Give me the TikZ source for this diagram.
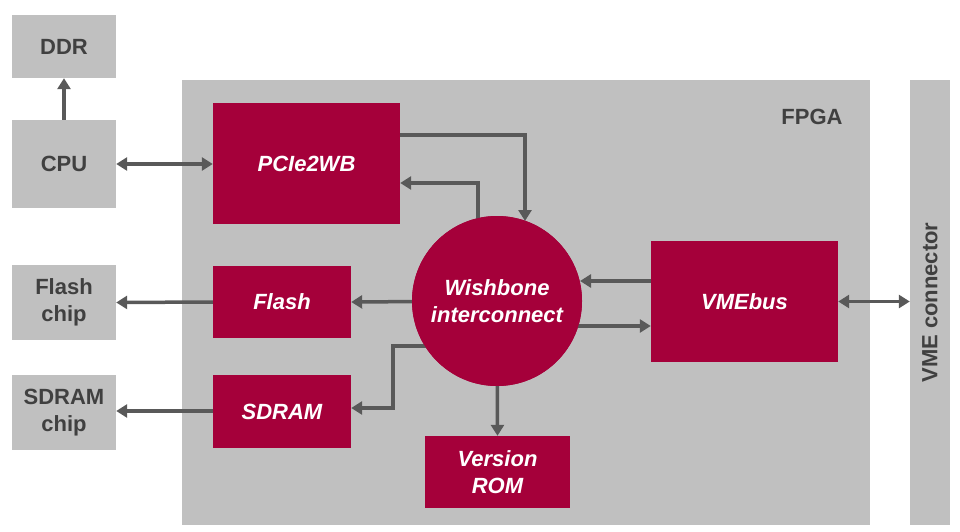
\documentclass[tikz,border=0pt]{standalone}
\usepackage{fontspec}
\setmainfont{Liberation Sans}
\usetikzlibrary{arrows.meta,calc}
\definecolor{gbox}{HTML}{C0C0C0}
\definecolor{rbox}{HTML}{A5003A}
\definecolor{ln}{HTML}{595959}
\definecolor{tx}{HTML}{404040}
\begin{document}
\begin{tikzpicture}[x=1pt,y=-1pt,
  gray/.style={fill=gbox,draw=none,inner sep=0,align=center,font=\fontsize{22}{27}\selectfont\bfseries,text=tx},
  red/.style={fill=rbox,draw=none,inner sep=0,align=center,font=\fontsize{22}{27}\selectfont\bfseries\itshape,text=white},
  ar/.style={draw=ln,line width=3.5pt,-{Triangle[length=11pt,width=13pt]}},
  bar/.style={draw=ln,line width=3.5pt,{Triangle[length=11pt,width=13pt]}-{Triangle[length=11pt,width=13pt]}}]
\useasboundingbox (0,0) rectangle (960,532);
\fill[gbox] (182,80) rectangle (870,525);
\node[font=\fontsize{22}{27}\selectfont\bfseries,text=tx] (fpga) at (812,117) {FPGA};
\node[gray,minimum width=40,minimum height=445] (vme) at (930,302.5) {};
\node[rotate=90,font=\fontsize{22}{27}\selectfont\bfseries,text=tx] at (vme.center) {VME connector};
\node[gray,minimum width=104,minimum height=63] (ddr) at (64,46.5) {DDR};
\node[gray,minimum width=104,minimum height=88] (cpu) at (64,164) {CPU};
\node[gray,minimum width=104,minimum height=75] (fchip) at (64,302.5) {Flash\\chip};
\node[gray,minimum width=104,minimum height=75] (schip) at (64,412.5) {SDRAM\\chip};
\node[red,minimum width=187,minimum height=121] (pcie) at (306.5,163.5) {PCIe2WB};
\node[red,minimum width=138,minimum height=72] (flash) at (282,302) {Flash};
\node[red,minimum width=138,minimum height=73] (sdram) at (282,411.5) {SDRAM};
\node[red,minimum width=145,minimum height=72] (rom) at (497.5,472) {Version\\ROM};
\node[red,minimum width=187,minimum height=121] (vmebus) at (744.5,301.5) {VMEbus};
\node[red,circle,minimum size=170] (wb) at (497,301) {};
\draw[ar] (cpu.north) -- (ddr.south);
\draw[bar] (cpu.east) -- (pcie.west|-cpu.east);
\coordinate (t) at (525,221);
\draw[ar] (pcie.east|-0,135) -| (t);
\draw[ar] (478,260) |- (pcie.east|-0,183);
\draw[ar] (wb.center) -- (flash.east);
\draw[ar] (flash.west) -- (fchip.east);
\draw[ar] (sdram.west|-0,411) -- (schip.east|-0,411);
\draw[ar] (450,346) -- (393,346) |- (sdram.east|-0,408);
\draw[ar] (wb.center) -- (rom.north);
\draw[ar] (vmebus.west|-0,281) -- (580,281);
\draw[ar] (540,326) -- (vmebus.west|-0,326);
\draw[bar] (vmebus.east) -- (vme.west|-vmebus.east);
\node[red,circle,minimum size=170] at (wb) {Wishbone\\interconnect};
\end{tikzpicture}
\end{document}
